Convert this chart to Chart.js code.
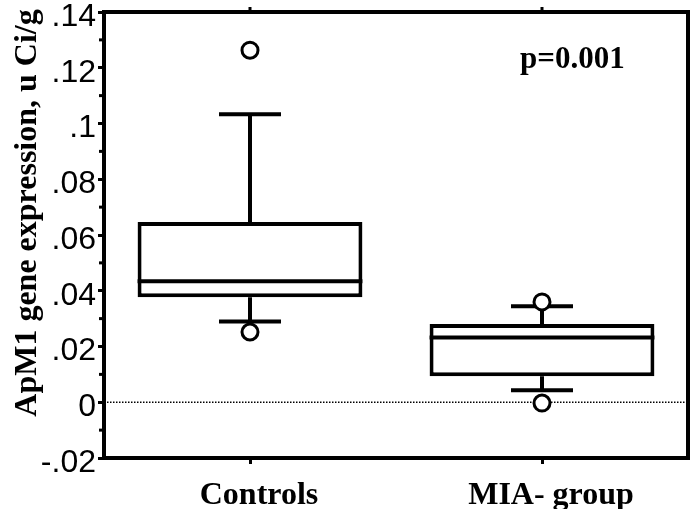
<!DOCTYPE html>
<html>
<head>
<meta charset="utf-8">
<script src="https://cdn.jsdelivr.net/npm/chart.js@4.4.0/dist/chart.umd.min.js"></script>
<style>
html, body { margin: 0; padding: 0; background: #fff; }
#wrap { width: 691px; height: 509px; position: relative; }
</style>
</head>
<body>
<div id="wrap"><canvas id="chart"></canvas></div>
<script>
// Data
const categories = ['Controls', 'MIA- group'];
const boxLow = [0.0377, 0.0093];
const boxHigh = [0.0647, 0.0281];
const medians = [0.0434, 0.0232];
const whiskerLow = [0.029, 0.0043];
const whiskerHigh = [0.1033, 0.0344];
const outliersHigh = [0.1263, 0.036];
const outliersLow = [0.0252, -0.0003];
const yTickLabels = ['-.02', '0', '.02', '.04', '.06', '.08', '.1', '.12', '.14'];
const yMinorTicks = [-0.01, 0.01, 0.03, 0.05, 0.07, 0.09, 0.11, 0.13];
const yAxisTitle = 'ApM1 gene expression, u Ci/g';
const pValueText = 'p=0.001';

const serifBold = "bold 32px 'Liberation Serif', 'Times New Roman', serif";

// whiskers + median drawn right after the boxes, before the outlier circles
const boxExtras = {
    id: 'boxExtras',
    beforeDatasetsDraw(chart) {
        const { ctx, chartArea, scales } = chart;
        const y0 = scales.y.getPixelForValue(0);
        ctx.save();
        ctx.strokeStyle = '#000';
        ctx.lineWidth = 1.5;
        ctx.setLineDash([1.5, 1.5]);
        ctx.beginPath();
        ctx.moveTo(chartArea.left, y0);
        ctx.lineTo(chartArea.right, y0);
        ctx.stroke();
        ctx.restore();
    },
    afterDatasetDraw(chart, args) {
        if (args.meta.type !== 'bar') return;
        const { ctx, scales } = chart;
        const x = scales.x, y = scales.y;
        const bars = args.meta.data;
        ctx.save();
        ctx.strokeStyle = '#000';
        ctx.lineWidth = 4;
        categories.forEach((c, i) => {
            const cx = x.getPixelForValue(i);
            const half = bars[i].width / 2;
            const capHalf = 31;
            // whiskers
            ctx.beginPath();
            ctx.moveTo(cx, y.getPixelForValue(boxHigh[i]));
            ctx.lineTo(cx, y.getPixelForValue(whiskerHigh[i]));
            ctx.moveTo(cx - capHalf, y.getPixelForValue(whiskerHigh[i]));
            ctx.lineTo(cx + capHalf, y.getPixelForValue(whiskerHigh[i]));
            ctx.moveTo(cx, y.getPixelForValue(boxLow[i]));
            ctx.lineTo(cx, y.getPixelForValue(whiskerLow[i]));
            ctx.moveTo(cx - capHalf, y.getPixelForValue(whiskerLow[i]));
            ctx.lineTo(cx + capHalf, y.getPixelForValue(whiskerLow[i]));
            ctx.stroke();
            // median
            ctx.beginPath();
            ctx.moveTo(cx - half, y.getPixelForValue(medians[i]));
            ctx.lineTo(cx + half, y.getPixelForValue(medians[i]));
            ctx.stroke();
        });
        ctx.restore();
    },
    afterDraw(chart) {
        const { ctx, chartArea, scales } = chart;
        ctx.save();
        ctx.strokeStyle = '#000';
        ctx.fillStyle = '#000';
        // frame top + right
        ctx.lineWidth = 4;
        ctx.beginPath();
        ctx.moveTo(chartArea.left - 2, chartArea.top);
        ctx.lineTo(chartArea.right, chartArea.top);
        ctx.lineTo(chartArea.right, chartArea.bottom + 2);
        ctx.stroke();
        // small ticks above the frame
        ctx.lineWidth = 3;
        categories.forEach((c, i) => {
            const cx = scales.x.getPixelForValue(i);
            ctx.beginPath();
            ctx.moveTo(cx, chartArea.top);
            ctx.lineTo(cx, chartArea.top - 5);
            ctx.stroke();
        });
        // minor y ticks
        yMinorTicks.forEach(v => {
            const py = scales.y.getPixelForValue(v);
            ctx.beginPath();
            ctx.moveTo(chartArea.left, py);
            ctx.lineTo(chartArea.left - 5, py);
            ctx.stroke();
        });
        // y title
        ctx.font = serifBold;
        ctx.textAlign = 'center';
        ctx.textBaseline = 'alphabetic';
        ctx.translate(36, 213);
        ctx.rotate(-Math.PI / 2);
        ctx.fillText(yAxisTitle, 0, 0);
        ctx.restore();
        // p value
        ctx.save();
        ctx.fillStyle = '#000';
        ctx.font = "bold 31px 'Liberation Serif', 'Times New Roman', serif";
        ctx.textAlign = 'left';
        ctx.textBaseline = 'alphabetic';
        ctx.fillText(pValueText, 520, 68);
        ctx.restore();
    }
};

function zeroPadding(scale) {
    scale.paddingLeft = 0;
    scale.paddingRight = 0;
    scale.paddingTop = 0;
    scale.paddingBottom = 0;
}

const ctx = document.getElementById('chart').getContext('2d');
new Chart(ctx, {
    data: {
        labels: categories,
        datasets: [
            {
                type: 'bar',
                order: 3,
                data: categories.map((c, i) => [boxLow[i], boxHigh[i]]),
                backgroundColor: '#fff',
                borderColor: '#000',
                borderWidth: 4,
                borderSkipped: false,
                barPercentage: 0.77,
                categoryPercentage: 1
            },
            {
                type: 'line',
                order: 1,
                data: outliersHigh,
                showLine: false,
                pointRadius: 8,
                pointBorderWidth: 3,
                pointBackgroundColor: '#fff',
                pointBorderColor: '#000'
            },
            {
                type: 'line',
                order: 2,
                data: outliersLow,
                showLine: false,
                pointRadius: 8,
                pointBorderWidth: 3,
                pointBackgroundColor: '#fff',
                pointBorderColor: '#000'
            }
        ]
    },
    options: {
        responsive: true,
        maintainAspectRatio: false,
        animation: false,
        layout: { autoPadding: false, padding: { top: 12, right: 3, left: 0, bottom: 0 } },
        plugins: {
            legend: { display: false },
            tooltip: { enabled: false }
        },
        scales: {
            x: {
                type: 'category',
                offset: true,
                grid: {
                    offset: false,
                    drawOnChartArea: false,
                    tickLength: 6,
                    lineWidth: 3,
                    color: '#000'
                },
                border: { display: true, width: 4, color: '#000' },
                ticks: {
                    color: '#000',
                    padding: 13,
                    labelOffset: 9,
                    font: { family: "'Liberation Serif', 'Times New Roman', serif", size: 32, weight: 'bold' }
                },
                afterFit(scale) {
                    scale.height = 51;
                    zeroPadding(scale);
                }
            },
            y: {
                type: 'linear',
                min: -0.02,
                max: 0.14,
                grid: {
                    drawOnChartArea: false,
                    tickLength: 6,
                    lineWidth: 3,
                    color: '#000'
                },
                border: { display: true, width: 4, color: '#000' },
                ticks: {
                    stepSize: 0.02,
                    color: '#000',
                    padding: 2,
                    labelOffset: 5,
                    font: { family: "'Liberation Sans', Arial, sans-serif", size: 32 },
                    callback: (value, index) => yTickLabels[index]
                },
                afterFit(scale) {
                    scale.width = 104;
                    zeroPadding(scale);
                }
            }
        }
    },
    plugins: [boxExtras]
});
</script>
</body>
</html>
